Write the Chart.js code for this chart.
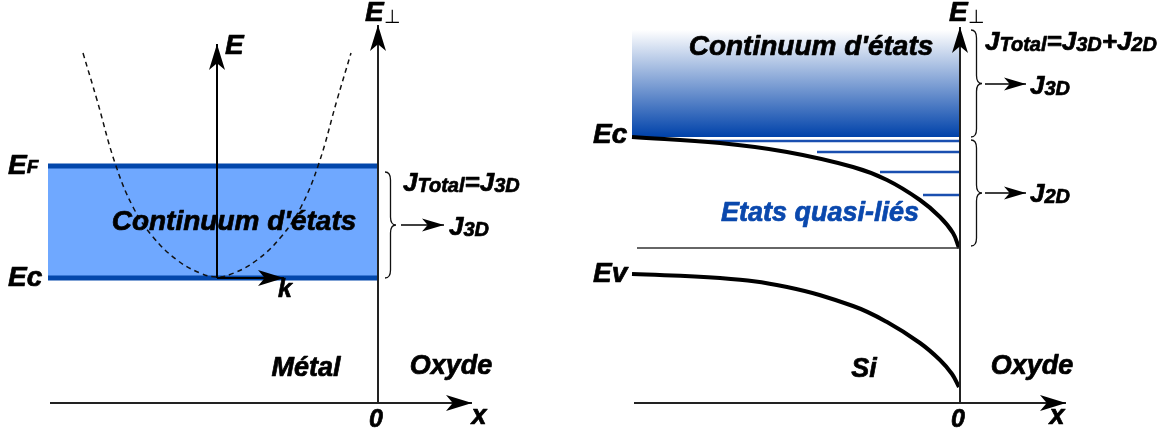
<!DOCTYPE html>
<html lang="fr">
<head>
<meta charset="UTF-8">
<title>Continuum d'états et états quasi-liés</title>
<script src="https://cdn.jsdelivr.net/npm/chart.js@4.4.1/dist/chart.umd.min.js"></script>
<style>
  body { margin: 0; background: #fff; }
  canvas { display: block; }
</style>
</head>
<body>
<canvas id="diagramme" width="1174" height="434"></canvas>
<script>
// Diagram units: x to the right, y downward

// --- Métal (left panel) ---
const metalAxeE = [{x: 378, y: 403}, {x: 378, y: 25}];
const metalAxeX = [{x: 50, y: 403}, {x: 472, y: 403}];
const metalEF = [{x: 48, y: 166}, {x: 378, y: 166}];
const metalEc = [{x: 48, y: 278}, {x: 378, y: 278}];
const parabole = [
  {x: 83, y: 53}, {x: 97, y: 100}, {x: 115, y: 163}, {x: 133, y: 207},
  {x: 153, y: 237}, {x: 177, y: 260}, {x: 200, y: 273}, {x: 217, y: 277},
  {x: 234, y: 273}, {x: 257, y: 260}, {x: 281, y: 237}, {x: 301, y: 207},
  {x: 319, y: 163}, {x: 337, y: 100}, {x: 351, y: 53}
];
const flecheE = [{x: 217, y: 278}, {x: 217, y: 44}];
const flecheK = [{x: 217, y: 278}, {x: 284, y: 278}];
const flecheJ3DMetal = [{x: 401, y: 225}, {x: 444, y: 225}];

// --- Si (right panel) ---
const siAxeE = [{x: 960, y: 403}, {x: 960, y: 27}];
const siAxeX = [{x: 634, y: 403}, {x: 1066, y: 403}];
const continuumHaut = [{x: 632, y: 30}, {x: 960, y: 30}];
const continuumBas = [{x: 632, y: 137}, {x: 960, y: 137}];
const siEc = [
  {x: 632, y: 137}, {x: 720, y: 143}, {x: 787, y: 152}, {x: 853, y: 167},
  {x: 887, y: 180}, {x: 920, y: 200}, {x: 940, y: 217}, {x: 953, y: 233},
  {x: 959, y: 248}
];
const siEv = [
  {x: 632, y: 274}, {x: 720, y: 278}, {x: 787, y: 287}, {x: 853, y: 306},
  {x: 887, y: 322}, {x: 920, y: 343}, {x: 940, y: 360}, {x: 952, y: 374},
  {x: 959, y: 387}
];
const baseEc = [{x: 637, y: 248}, {x: 960, y: 248}];
const niveauxY = [141, 152, 172, 195];
const niveauxDebut = [700, 817, 880, 923];
const flecheJ3DSi = [{x: 985, y: 84}, {x: 1026, y: 84}];
const flecheJ2DSi = [{x: 985, y: 193}, {x: 1026, y: 193}];

const accolades = [
  {x: 385, haut: 172, bas: 278},
  {x: 971, haut: 30, bas: 137},
  {x: 971, haut: 140, bas: 246}
];

// texts: parts = [texte, taille, décalage vertical, droit]
const textes = [
  {x: 8, y: 166, parts: [['E', 28, 0], ['F', 19, 2]]},
  {x: 8, y: 278, parts: [['Ec', 28, 0]]},
  {x: 225, y: 46, parts: [['E', 28, 0]]},
  {x: 278, y: 290, parts: [['k', 25, 0]]},
  {x: 234, y: 222, align: 'center', parts: [["Continuum d'états", 28, 0]]},
  {x: 403, y: 184, parts: [['J', 26, 0], ['Total', 20, 2], ['=J', 26, 0], ['3D', 20, 2]]},
  {x: 449, y: 228, parts: [['J', 26, 0], ['3D', 20, 2]]},
  {x: 306, y: 369, align: 'center', parts: [['Métal', 27, 0]]},
  {x: 451, y: 367, align: 'center', parts: [['Oxyde', 27, 0]]},
  {x: 376, y: 420, align: 'center', parts: [['0', 25, 0]]},
  {x: 479, y: 417, align: 'center', parts: [['x', 27, 0]]},
  {x: 365, y: 13, parts: [['E', 28, 0], ['⊥', 19, 5, true]]},
  {x: 811, y: 47, align: 'center', parts: [["Continuum d'états", 28, 0]]},
  {x: 820, y: 214, align: 'center', color: '#0a48ad', parts: [['Etats quasi-liés', 27, 0]]},
  {x: 593, y: 135, parts: [['Ec', 28, 0]]},
  {x: 593, y: 274, parts: [['Ev', 28, 0]]},
  {x: 864, y: 370, align: 'center', parts: [['Si', 27, 0]]},
  {x: 1032, y: 367, align: 'center', parts: [['Oxyde', 27, 0]]},
  {x: 958, y: 420, align: 'center', parts: [['0', 25, 0]]},
  {x: 1057, y: 417, align: 'center', parts: [['x', 27, 0]]},
  {x: 949, y: 13, parts: [['E', 28, 0], ['⊥', 19, 5, true]]},
  {x: 985, y: 43, parts: [['J', 26, 0], ['Total', 20, 2], ['=J', 26, 0], ['3D', 20, 2], ['+J', 26, 0], ['2D', 20, 2]]},
  {x: 1030, y: 87, parts: [['J', 26, 0], ['3D', 20, 2]]},
  {x: 1030, y: 195, parts: [['J', 26, 0], ['2D', 20, 2]]}
];

const bleuFonce = '#0347ab';
const police = '"Liberation Sans", Arial, sans-serif';

function ligne(data, couleur, epaisseur, extra) {
  return Object.assign({
    data: data, borderColor: couleur, borderWidth: epaisseur,
    pointRadius: 0, fill: false, tension: 0, order: 1
  }, extra || {});
}

const datasets = [
  // fills (drawn underneath)
  ligne(metalEF, bleuFonce, 5, {fill: '+1', backgroundColor: '#6fa8ff', order: 5}),
  ligne(metalEc, bleuFonce, 5, {order: 4}),
  ligne(continuumHaut, 'rgba(0,0,0,0)', 0, {
    order: 6, fill: '+1',
    backgroundColor: function (c) {
      const ch = c.chart;
      if (!ch.chartArea) return '#6fa8ff';
      const y = ch.scales.y;
      const g = ch.ctx.createLinearGradient(0, y.getPixelForValue(30), 0, y.getPixelForValue(137));
      g.addColorStop(0, '#ffffff');
      g.addColorStop(1, '#0042aa');
      return g;
    }
  }),
  ligne(continuumBas, 'rgba(0,0,0,0)', 0, {order: 6}),
  ligne(parabole, '#111', 1.5, {borderDash: [5, 4], tension: 0.4, order: 2}),
  ligne(metalAxeE, '#222', 2, {fleche: 'grande'}),
  ligne(metalAxeX, '#222', 2, {fleche: 'grande'}),
  ligne(flecheE, '#000', 2, {fleche: 'grande'}),
  ligne(flecheK, '#000', 2, {fleche: 'grande'}),
  ligne(flecheJ3DMetal, '#000', 1.5, {fleche: 'petite'}),
  ligne(siAxeE, '#222', 2, {fleche: 'grande'}),
  ligne(siAxeX, '#222', 2, {fleche: 'grande'}),
  ligne(baseEc, '#333', 1.5),
  ligne(siEc, '#000', 4, {tension: 0.4}),
  ligne(siEv, '#000', 4, {tension: 0.4}),
  ligne(flecheJ3DSi, '#000', 1.5, {fleche: 'petite'}),
  ligne(flecheJ2DSi, '#000', 1.5, {fleche: 'petite'})
];
niveauxY.forEach(function (y, i) {
  datasets.push(ligne([{x: niveauxDebut[i], y: y}, {x: 960, y: y}], '#1a4fb0', 2.5, {order: 3}));
});

const decor = {
  id: 'decor',
  afterDatasetsDraw(chart) {
    const ctx = chart.ctx;
    const sx = chart.scales.x, sy = chart.scales.y;
    ctx.save();

    // arrowheads
    chart.data.datasets.forEach(function (ds) {
      if (!ds.fleche) return;
      const a = ds.data[ds.data.length - 2], b = ds.data[ds.data.length - 1];
      const x0 = sx.getPixelForValue(a.x), y0 = sy.getPixelForValue(a.y);
      const x1 = sx.getPixelForValue(b.x), y1 = sy.getPixelForValue(b.y);
      const ang = Math.atan2(y1 - y0, x1 - x0);
      const L = ds.fleche === 'grande' ? 26 : 22;
      const W = ds.fleche === 'grande' ? 16 : 13;
      ctx.save();
      ctx.translate(x1, y1);
      ctx.rotate(ang);
      ctx.fillStyle = '#000';
      ctx.beginPath();
      ctx.moveTo(0, 0);
      ctx.lineTo(-L, -W / 2);
      ctx.lineTo(-L * 0.74, 0);
      ctx.lineTo(-L, W / 2);
      ctx.closePath();
      ctx.fill();
      ctx.restore();
    });

    // braces
    ctx.strokeStyle = '#111';
    ctx.lineWidth = 1.3;
    accolades.forEach(function (b) {
      const x = sx.getPixelForValue(b.x);
      const top = sy.getPixelForValue(b.haut), bot = sy.getPixelForValue(b.bas);
      const mid = (top + bot) / 2, w = 11, q = 8, xm = x + w / 2;
      ctx.beginPath();
      ctx.moveTo(x, top);
      ctx.quadraticCurveTo(xm, top, xm, top + q);
      ctx.lineTo(xm, mid - q);
      ctx.quadraticCurveTo(xm, mid, x + w, mid);
      ctx.quadraticCurveTo(xm, mid, xm, mid + q);
      ctx.lineTo(xm, bot - q);
      ctx.quadraticCurveTo(xm, bot, x, bot);
      ctx.stroke();
    });

    // labels (light stroke to thicken like the original)
    ctx.textBaseline = 'middle';
    ctx.textAlign = 'left';
    ctx.lineJoin = 'round';
    textes.forEach(function (t) {
      const fonte = function (p) {
        return (p[3] ? '' : 'italic bold ') + p[1] + 'px ' + police;
      };
      let total = 0;
      t.parts.forEach(function (p) { ctx.font = fonte(p); total += ctx.measureText(p[0]).width; });
      let x = sx.getPixelForValue(t.x);
      const y = sy.getPixelForValue(t.y);
      if (t.align === 'center') x -= total / 2;
      ctx.fillStyle = t.color || '#000';
      ctx.strokeStyle = t.color || '#000';
      t.parts.forEach(function (p) {
        ctx.font = fonte(p);
        ctx.fillText(p[0], x, y + p[2]);
        if (!p[3]) {
          ctx.lineWidth = 0.7;
          ctx.strokeText(p[0], x, y + p[2]);
        }
        x += ctx.measureText(p[0]).width;
      });
    });
    ctx.restore();
  }
};

new Chart(document.getElementById('diagramme'), {
  type: 'line',
  data: {datasets: datasets},
  options: {
    responsive: false,
    animation: false,
    layout: {padding: 0},
    plugins: {legend: {display: false}, tooltip: {enabled: false}},
    scales: {
      x: {type: 'linear', min: 0, max: 1174, display: false},
      y: {type: 'linear', min: 0, max: 434, reverse: true, display: false}
    }
  },
  plugins: [decor]
});
</script>
</body>
</html>
